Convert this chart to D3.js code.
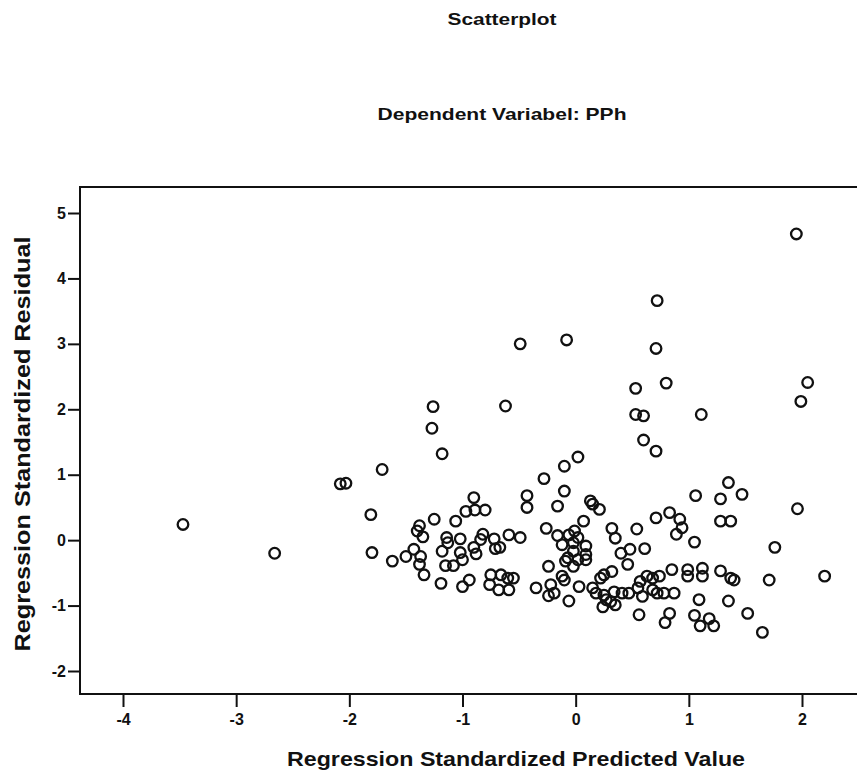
<!DOCTYPE html>
<html>
<head>
<meta charset="utf-8"/>
<script src="https://cdn.jsdelivr.net/npm/d3@7"></script>
<style>
html, body {
  margin: 0;
  padding: 0;
  background: #fff;
}
svg text {
  font-family: "Liberation Sans", Arial, sans-serif;
  font-weight: bold;
  fill: #111;
}
.frame {
  fill: none;
  stroke: #111;
  stroke-width: 2;
}
.tick line {
  stroke: #111;
  stroke-width: 2;
}
.tick text {
  font-size: 16px;
}
.dot {
  fill: none;
  stroke: #111;
  stroke-width: 2.3;
}
</style>
</head>
<body>
<svg id="chart" width="857" height="775"></svg>

<script type="text/javascript">

// regression standardized predicted value (x) / standardized residual (y)
var predicted = [
  1.95, 0.72, -0.49, -0.08, 0.71, 0.53, 0.80, 2.05, 1.99, -1.26,
  -0.62, 0.53, 0.60, 1.11, -1.27, 0.60, -1.18, 0.71, 0.02, -0.10,
  -1.71, -0.28, -2.08, -2.03, 1.35, -0.10, 1.06, 1.28, 1.47, 1.96,
  1.28, 1.37, -3.47, -2.66, -1.81, -1.80, -1.62, -0.90, -0.43, -0.43,
  -0.97, -0.89, -0.80, -1.25, -1.06, -1.38, -1.40, -1.35, -1.14, -1.02,
  -0.82, -0.84, -0.72, -0.59, -0.49, -0.26, -1.50, -1.43, -1.37, -1.38,
  -1.34, -1.18, -1.13, -1.02, -1.00, -0.90, -0.88, -0.71, -0.67, -1.15,
  -1.08, -1.19, -1.00, -0.94, -0.75, -0.66, -0.76, -0.60, -0.55, -0.68,
  -0.59, -0.35, -0.24, -0.24, -0.19, -0.16, 0.13, 0.15, 0.21, 0.07,
  -0.16, -0.06, -0.01, 0.02, -0.12, -0.02, 0.09, -0.02, 0.09, -0.07,
  0.02, 0.09, -0.09, -0.02, 0.32, 0.35, 0.54, 0.40, 0.48, 0.61,
  0.46, 0.71, 0.83, 0.92, 0.94, 0.89, 0.25, 0.32, 0.22, -0.12,
  -0.10, -0.22, -0.06, 0.03, 0.15, 0.18, 0.25, 0.27, 0.24, 0.31,
  0.35, 0.34, 0.41, 0.47, 0.55, 0.57, 0.63, 0.68, 0.74, 0.59,
  0.68, 0.72, 0.78, 0.87, 0.85, 0.99, 0.99, 0.56, 0.83, 0.79,
  1.05, 1.76, 1.12, 1.12, 1.28, 1.37, 1.40, 1.71, 2.20, 1.09,
  1.35, 1.52, 1.05, 1.18, 1.10, 1.22, 1.65
];
var residual = [
  4.68, 3.66, 3.00, 3.06, 2.93, 2.32, 2.40, 2.41, 2.12, 2.04,
  2.05, 1.92, 1.90, 1.92, 1.71, 1.53, 1.32, 1.36, 1.27, 1.13,
  1.08, 0.94, 0.86, 0.87, 0.88, 0.75, 0.68, 0.63, 0.70, 0.48,
  0.29, 0.29, 0.24, -0.20, 0.39, -0.19, -0.32, 0.65, 0.68, 0.50,
  0.44, 0.46, 0.46, 0.32, 0.29, 0.22, 0.14, 0.05, 0.04, 0.02,
  0.09, 0.01, 0.02, 0.08, 0.04, 0.18, -0.25, -0.14, -0.25, -0.37,
  -0.53, -0.17, -0.04, -0.19, -0.30, -0.11, -0.21, -0.13, -0.11, -0.39,
  -0.39, -0.66, -0.71, -0.61, -0.53, -0.53, -0.68, -0.58, -0.58, -0.76,
  -0.76, -0.73, -0.85, -0.40, -0.81, 0.52, 0.60, 0.55, 0.47, 0.29,
  0.07, 0.08, 0.14, 0.04, -0.07, -0.04, -0.09, -0.17, -0.22, -0.27,
  -0.30, -0.30, -0.32, -0.40, 0.18, 0.03, 0.17, -0.20, -0.14, -0.13,
  -0.37, 0.34, 0.42, 0.32, 0.19, 0.09, -0.53, -0.48, -0.58, -0.55,
  -0.61, -0.68, -0.93, -0.71, -0.73, -0.81, -0.84, -0.91, -1.02, -0.94,
  -0.99, -0.79, -0.81, -0.81, -0.73, -0.63, -0.55, -0.58, -0.55, -0.86,
  -0.76, -0.81, -0.81, -0.81, -0.45, -0.45, -0.55, -1.14, -1.12, -1.26,
  -0.03, -0.11, -0.43, -0.55, -0.47, -0.58, -0.61, -0.61, -0.55, -0.91,
  -0.93, -1.12, -1.15, -1.20, -1.31, -1.31, -1.41
];

var xTicks = [-4, -3, -2, -1, 0, 1, 2];
var yTicks = [-2, -1, 0, 1, 2, 3, 4, 5];

var title = "Scatterplot";
var subtitle = "Dependent Variabel: PPh";
var xTitle = "Regression Standardized Predicted Value";
var yTitle = "Regression Standardized Residual";

//---------------------------------------
var svg = d3.select("#chart");

var frame = {left: 80, top: 187, bottom: 694, right: 900};

var x = d3.scaleLinear().domain([-4, 2]).range([123, 802]);
var y = d3.scaleLinear().domain([-2, 5]).range([671, 213]);

// plot border (right edge runs off the picture)
svg.append("rect")
    .attr("class", "frame")
    .attr("x", frame.left)
    .attr("y", frame.top)
    .attr("width", frame.right - frame.left)
    .attr("height", frame.bottom - frame.top);

// axes, plain hyphen for negatives like the SPSS output
var xAxis = d3.axisBottom(x)
    .tickValues(xTicks)
    .tickSize(13)
    .tickPadding(5)
    .tickFormat(function(d) { return String(d); });

var yAxis = d3.axisLeft(y)
    .tickValues(yTicks)
    .tickSize(12)
    .tickPadding(2)
    .tickFormat(function(d) { return String(d); });

var gx = svg.append("g")
    .attr("transform", "translate(0," + frame.bottom + ")")
    .call(xAxis);

var gy = svg.append("g")
    .attr("transform", "translate(" + frame.left + ",0)")
    .call(yAxis);

[gx, gy].forEach(function(g) {
  g.attr("font-size", null).attr("font-family", null);
  g.select(".domain").remove();
  g.selectAll(".tick text").attr("fill", "#111");
});
gx.selectAll(".tick text").attr("dy", "0.8em");

// points
svg.append("g")
  .selectAll("circle")
  .data(predicted.map(function(d, i) { return [d, residual[i]]; }))
  .enter().append("circle")
    .attr("class", "dot")
    .attr("cx", function(d) { return x(d[0]); })
    .attr("cy", function(d) { return y(d[1]); })
    .attr("r", 5.3);

// titles
svg.append("text")
    .attr("x", 502)
    .attr("y", 25)
    .attr("text-anchor", "middle")
    .attr("font-size", 17)
    .attr("textLength", 109)
    .attr("lengthAdjust", "spacingAndGlyphs")
    .text(title);

svg.append("text")
    .attr("x", 502)
    .attr("y", 120)
    .attr("text-anchor", "middle")
    .attr("font-size", 17)
    .attr("textLength", 249)
    .attr("lengthAdjust", "spacingAndGlyphs")
    .text(subtitle);

svg.append("text")
    .attr("x", 516)
    .attr("y", 766)
    .attr("text-anchor", "middle")
    .attr("font-size", 21)
    .attr("textLength", 458)
    .attr("lengthAdjust", "spacingAndGlyphs")
    .text(xTitle);

svg.append("text")
    .attr("transform", "translate(30,444) rotate(-90)")
    .attr("text-anchor", "middle")
    .attr("font-size", 22)
    .attr("textLength", 415)
    .attr("lengthAdjust", "spacingAndGlyphs")
    .text(yTitle);

</script>
</body>
</html>
